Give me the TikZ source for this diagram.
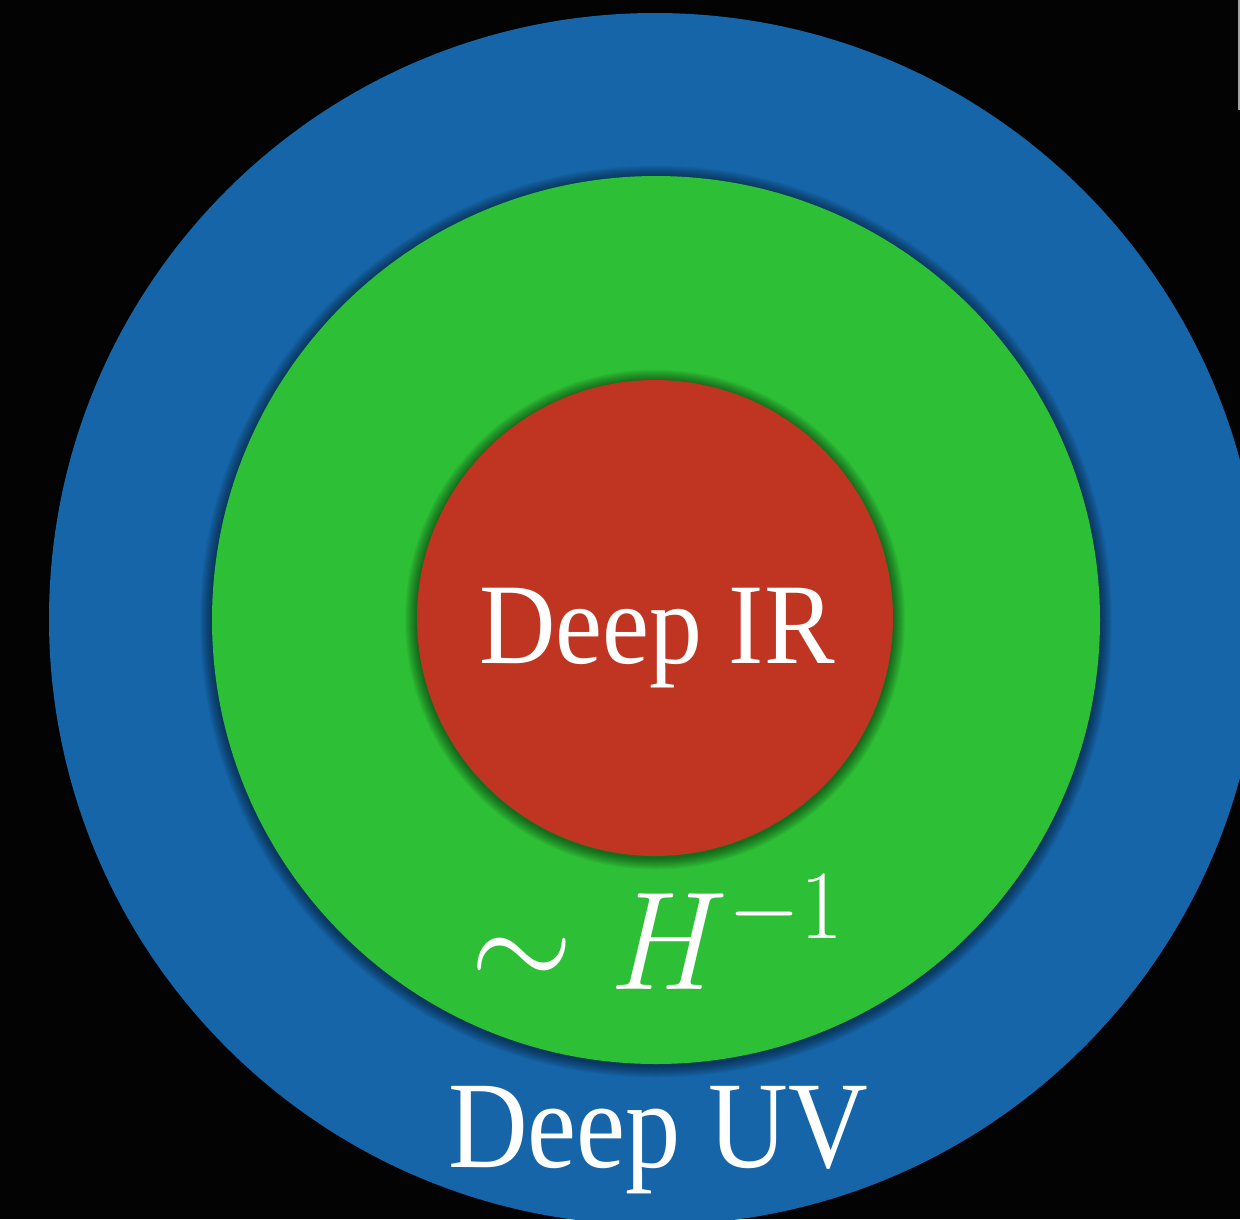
\documentclass[tikz,border=0pt]{standalone}
\usepackage{fix-cm}
\usepackage{fontspec}
\setmainfont{Liberation Serif}
\definecolor{bg}{RGB}{3,3,3}
\definecolor{uvblue}{RGB}{21,101,168}
\definecolor{midgreen}{RGB}{45,191,54}
\definecolor{irred}{RGB}{192,53,34}
\tikzset{
  disc/.style={circle, inner sep=0pt, minimum size=#1},
  lab/.style={text=white, inner sep=0pt, anchor=base},
}
\begin{document}
\begin{tikzpicture}[x=1pt,y=-1pt]
\fill[bg] (0,0) rectangle (1240,1219);
\useasboundingbox (0,0) rectangle (1240,1219);
\draw[gray!70, line width=1.5pt] (1239.2,0) -- (1239.2,110);
% blue
\node[disc=1212pt, fill=uvblue] (uv) at (655,619) {};
% shadow of green
\foreach \k in {1,...,12}{
  \fill[black, opacity=0.045] (656,621.5) circle ({444+\k*1.0});
}
\node[disc=888pt, fill=midgreen] (mid) at (656,620) {};
% shadow of red
\foreach \k in {1,...,12}{
  \fill[black, opacity=0.045] (655,619.5) circle ({238+\k*1.0});
}
\node[disc=476pt, fill=irred] (ir) at (655,618) {};
% labels
\node[lab] (irlab) at (657,663) {\scalebox{0.92}[1]{\fontsize{115}{120}\selectfont Deep IR}};
\node[lab] (hlab) at (657,989) {\scalebox{0.945}[1]{\fontsize{140}{150}\selectfont $\sim H^{-1}$}};
\node[lab] (uvlab) at (658,1167) {\scalebox{0.89}[1]{\fontsize{124}{130}\selectfont Deep UV}};
\end{tikzpicture}
\end{document}
